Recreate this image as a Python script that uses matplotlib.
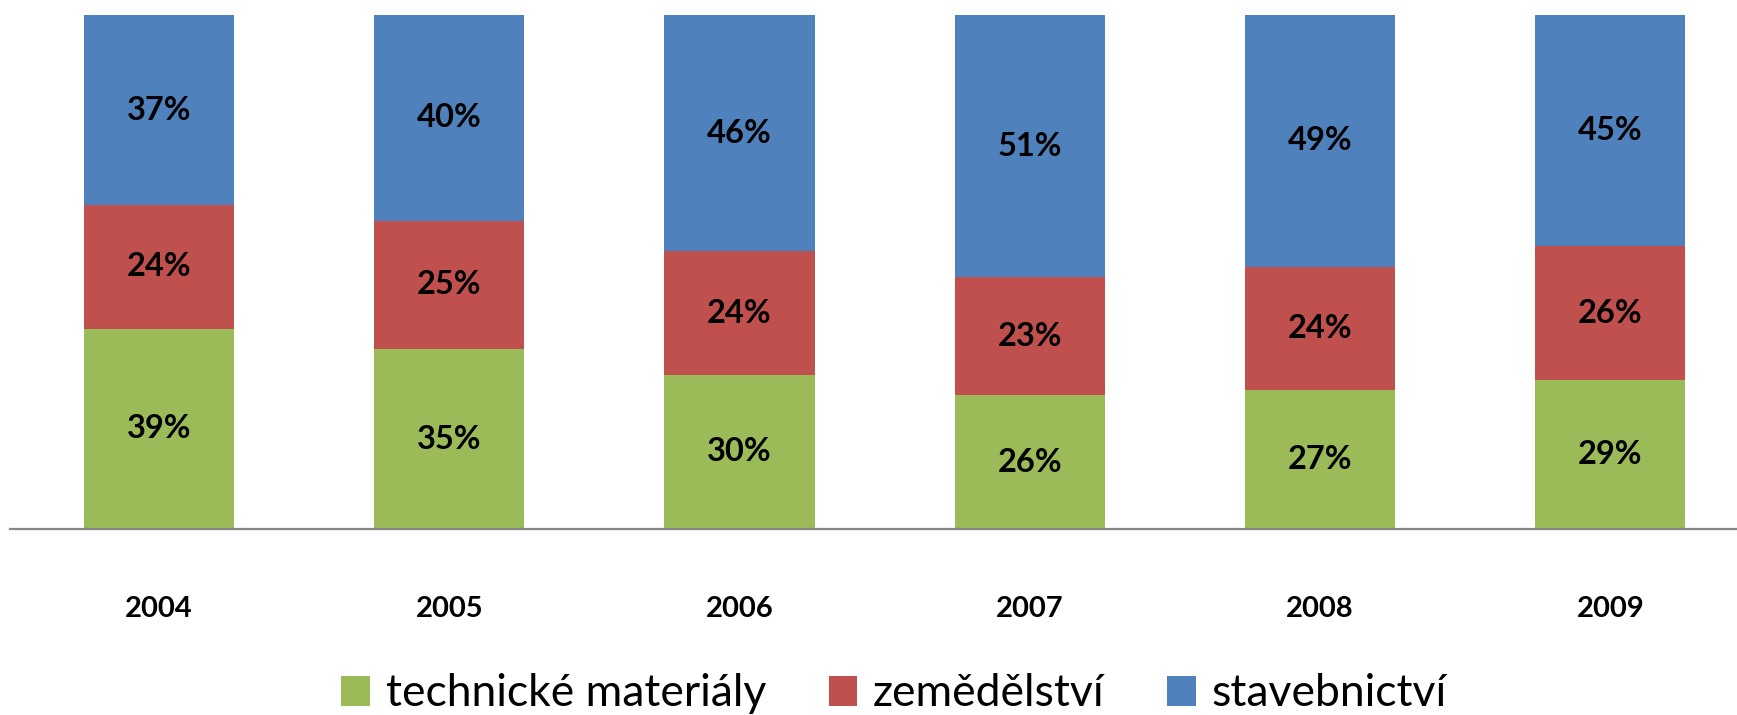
import matplotlib
matplotlib.use("Agg")
import matplotlib.pyplot as plt
import numpy as np

# Data (percent shares per year)
roky = ["2004", "2005", "2006", "2007", "2008", "2009"]
technicke = [39, 35, 30, 26, 27, 29]
zemedelstvi = [24, 25, 24, 23, 24, 26]
stavebnictvi = [37, 40, 46, 51, 49, 45]

serie = [
    ("technické materiály", technicke, "#9BBB59"),
    ("zemědělství", zemedelstvi, "#C0504D"),
    ("stavebnictví", stavebnictvi, "#4F81BD"),
]

plt.rcParams["font.family"] = ["Lato", "DejaVu Sans"]

W, H = 1737, 715
fig = plt.figure(figsize=(W / 100, H / 100), dpi=100)
ax = fig.add_axes([10 / W, (H - 529) / H, 1727 / W, 514 / H])

x = np.arange(len(roky))
bottom = np.zeros(len(roky))
for nazev, hodnoty, barva in serie:
    hodnoty = np.array(hodnoty, dtype=float)
    ax.bar(x, hodnoty, width=0.517, bottom=bottom, color=barva,
           label=nazev, linewidth=0)
    for xi, b, h in zip(x, bottom, hodnoty):
        ax.text(xi, b + h / 2, "%d%%" % h, ha="center", va="center",
                fontsize=23.5, fontweight="bold", color="black")
    bottom += hodnoty

ax.set_xlim(-0.513, 5.436)
ax.set_ylim(0, 100)
ax.set_yticks([])
ax.set_xticks(x)
ax.set_xticklabels(roky, fontsize=21, fontweight="bold")
ax.tick_params(axis="x", length=0, pad=48)
for s in ["top", "right", "left"]:
    ax.spines[s].set_visible(False)
ax.spines["bottom"].set_color("#868686")
ax.spines["bottom"].set_linewidth(1.6)

fig.legend(loc="center", bbox_to_anchor=(894 / W, 1 - 694 / H), ncol=3,
           frameon=False, fontsize=32, handlelength=0.65, handleheight=0.65,
           handletextpad=0.35, columnspacing=1.4, borderpad=0)

fig.savefig("out.png", dpi=100)
